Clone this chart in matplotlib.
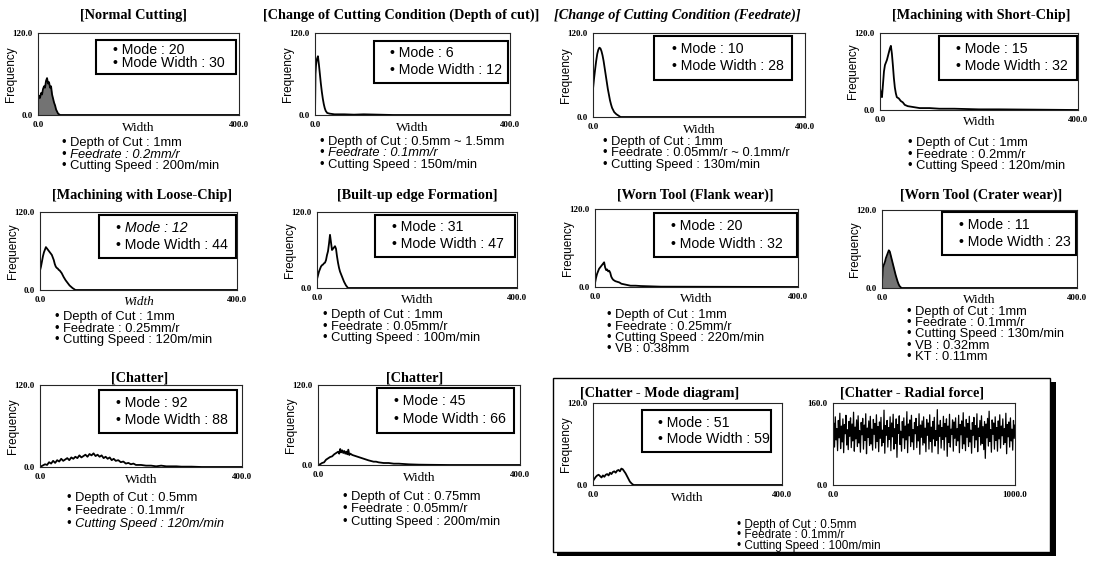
import matplotlib
matplotlib.use("Agg")
import matplotlib.pyplot as plt
from matplotlib.patches import Rectangle

W, H = 1110, 564

# ---- histogram data (width, frequency) ----
nc_w = [0, 2, 4, 6, 8, 10, 12, 14, 16, 18, 20, 22, 24, 26, 28, 30, 32, 34, 36, 38, 40, 44, 50, 400]
nc_f = [22, 28, 25, 32, 30, 38, 42, 40, 50, 54, 46, 48, 40, 42, 30, 24, 18, 14, 8, 5, 2, 0, 0, 0]

doc_w = [0, 1, 2, 3, 4, 5, 6, 7, 8, 10, 12, 14, 16, 18, 20, 22, 25, 30, 40, 60, 80, 100, 130, 160, 400]
doc_f = [0, 60, 72, 78, 82, 84, 86, 80, 74, 60, 46, 34, 24, 16, 10, 6, 3, 2, 1, 1, 0.5, 1, 0.5, 0, 0]

fr_w = [0, 2, 4, 6, 8, 10, 12, 14, 16, 18, 20, 22, 24, 26, 28, 30, 32, 34, 36, 40, 44, 48, 52, 400]
fr_f = [40, 55, 68, 80, 90, 96, 99, 98, 94, 88, 80, 70, 60, 50, 40, 32, 24, 18, 13, 7, 4, 2, 0, 0]

sc_w = [0, 2, 4, 6, 8, 10, 12, 14, 16, 18, 20, 22, 24, 26, 28, 30, 32, 34, 38, 42, 46, 50, 56, 64,
        72, 80, 100, 120, 150, 200, 240, 400]
sc_f = [34, 26, 20, 40, 60, 70, 74, 78, 84, 90, 96, 100, 88, 70, 50, 35, 26, 20, 18, 14, 12, 8, 6, 5,
        4, 3, 3, 2, 2, 1, 1, 0]

lc_w = [0, 2, 4, 6, 8, 10, 12, 14, 16, 18, 20, 22, 24, 26, 28, 30, 32, 34, 36, 38, 40, 44, 48, 52,
        56, 60, 66, 72, 400]
lc_f = [30, 36, 44, 52, 58, 62, 66, 64, 62, 60, 58, 56, 54, 50, 46, 40, 36, 34, 33, 31, 30, 26, 20, 15,
        11, 7, 3, 0, 0]

bue_w = [0, 2, 4, 6, 8, 10, 12, 14, 16, 18, 20, 22, 24, 26, 28, 30, 32, 34, 36, 38, 40, 42, 44, 46,
         48, 50, 54, 58, 62, 400]
bue_f = [14, 20, 26, 30, 34, 36, 37, 39, 40, 44, 52, 58, 70, 84, 72, 60, 62, 64, 66, 62, 50, 40, 32, 26,
         22, 18, 10, 4, 0, 0]

fw_w = [0, 2, 4, 6, 8, 10, 12, 14, 16, 18, 20, 22, 24, 26, 28, 30, 32, 34, 36, 38, 40, 44, 48, 52,
        58, 64, 70, 80, 90, 110, 130, 400]
fw_f = [6, 14, 20, 24, 28, 30, 32, 34, 36, 38, 30, 26, 27, 24, 25, 22, 16, 13, 11, 10, 9, 8, 7, 5,
        4, 3, 2, 2, 1.5, 1, 0.5, 0]

cw_w = [0, 2, 4, 6, 8, 10, 12, 14, 16, 18, 20, 22, 24, 26, 28, 30, 32, 34, 36, 40, 400]
cw_f = [10, 32, 36, 40, 46, 50, 54, 58, 56, 50, 44, 38, 32, 26, 20, 15, 10, 6, 3, 0, 0]

ch1_w = [0, 5, 10, 14, 18, 22, 26, 30, 34, 38, 42, 46, 50, 54, 58, 62, 66, 70, 74, 78, 82, 86, 90, 94,
         98, 102, 106, 110, 114, 118, 122, 126, 130, 134, 138, 142, 146, 150, 155, 160, 165, 170, 175,
         180, 185, 190, 200, 210, 220, 230, 240, 250, 260, 270, 280, 300, 320, 360, 400]
ch1_f = [0, 2, 4, 3, 7, 5, 9, 6, 10, 8, 12, 9, 11, 13, 10, 14, 12, 15, 13, 17, 14, 16, 18, 15,
         19, 17, 20, 16, 18, 15, 17, 13, 15, 12, 14, 10, 12, 9, 10, 7, 8, 5, 6,
         4, 5, 3, 3, 2, 2, 1, 2, 1, 1, 1, 0.5, 0.5, 0, 0, 0]

ch2_w = [0, 4, 8, 12, 16, 20, 24, 28, 32, 36, 40, 42, 44, 46, 48, 50, 52, 54, 56, 58, 60, 62, 64, 68,
         72, 76, 80, 84, 88, 92, 96, 100, 105, 110, 115, 120, 130, 140, 150, 160, 170, 180, 200, 220,
         260, 400]
ch2_f = [0, 1, 3, 4, 8, 10, 12, 13, 16, 18, 20, 17, 24, 19, 22, 18, 21, 17, 20, 16, 23, 15, 17, 15,
         14, 13, 12, 11, 10, 9, 8, 7, 6, 5, 5, 4, 3, 3, 2, 2, 1.5, 1, 0.5, 0.3,
         0, 0]

md_w = [0, 3, 6, 9, 12, 15, 18, 21, 24, 27, 30, 33, 36, 39, 42, 45, 48, 51, 54, 57, 60, 63, 66, 69,
        72, 75, 78, 82, 86, 400]
md_f = [6, 9, 12, 14, 15, 13, 11, 14, 12, 15, 16, 14, 18, 16, 19, 20, 18, 21, 22, 20, 24, 23, 20, 17,
        13, 9, 5, 2, 0, 0]

# radial force trace (chatter), values read as a dense band between ~60 and ~140
rf_vals = [
    96, 121, 74, 133, 88, 110, 67, 126, 92, 140, 71, 115, 84, 129, 63, 118, 100, 136, 78, 108,
    69, 124, 95, 131, 73, 119, 86, 142, 66, 113, 90, 127, 75, 135, 82, 106, 64, 122, 98, 130,
    70, 117, 87, 139, 61, 111, 93, 125, 77, 134, 80, 109, 68, 128, 99, 120, 72, 137, 85, 114,
    65, 123, 91, 132, 76, 107, 83, 146, 62, 116, 97, 126, 74, 112, 89, 133, 67, 121, 94, 138,
    70, 110, 81, 129, 54, 118, 101, 135, 79, 105, 66, 124, 92, 131, 71, 115, 88, 143, 63, 119,
    96, 127, 75, 136, 84, 108, 69, 122, 100, 130, 73, 114, 86, 139, 60, 117, 93, 125, 78, 133,
    82, 111, 65, 128, 97, 121, 70, 137, 85, 113, 64, 124, 90, 132, 76, 106, 87, 147, 61, 117,
    95, 126, 72, 112, 89, 134, 68, 120, 94, 129, 56, 115, 83, 138, 74, 109, 99, 127, 66, 123,
    91, 131, 77, 110, 86, 136, 63, 118, 98, 125, 71, 141, 80, 113, 67, 128, 93, 120, 75, 134,
    84, 107, 62, 122, 97, 132, 73, 116, 88, 139, 65, 111, 95, 126, 78, 135, 81, 114, 69, 124,
    52, 119, 92, 130, 76, 144, 85, 108, 64, 127, 99, 121, 70, 133, 87, 112, 66, 125, 90, 137,
    72, 115, 96, 129, 79, 110, 83, 140, 61, 118, 94, 123, 74, 131, 86, 109, 68, 126, 91, 117,
]

SERIF = "Liberation Serif"
SANS = "Liberation Sans"

fig = plt.figure(figsize=(W / 100, H / 100), dpi=100)


def px_axes(l, t, r, b):
    return fig.add_axes([l / W, 1 - b / H, (r - l) / W, (b - t) / H])


def fig_text(x, y, s, **kw):
    fig.text(x / W, 1 - y / H, s, **kw)


def style_axes(ax, xmax, ymax, xlab, ylab):
    ax.set_xlim(0, xmax)
    ax.set_ylim(0, ymax)
    ax.set_xticks([0, xmax])
    ax.set_xticklabels(["0.0", xlab], fontsize=6.5, family=SERIF, fontweight="bold")
    ax.set_yticks([0, ymax])
    ax.set_yticklabels(["0.0", ylab], fontsize=6.5, family=SERIF, fontweight="bold")
    ax.tick_params(length=0, pad=4)
    for sp in ax.spines.values():
        sp.set_linewidth(0.8)
        sp.set_color("0.15")


def hist_panel(rect, w, f, title, title_xy, mode, width, box, cond, cond_xy,
               title_style="normal", mode_italic=False, width_italic=False,
               italic_lines=(), filled=False, cond_step=11.5, cond_size=9.3):
    ax = px_axes(*rect)
    ax.plot(w, f, color="k", lw=1.3)
    if filled:
        ax.fill_between(w, f, color="k", alpha=0.55, lw=0)
    style_axes(ax, 400, 120, "400.0", "120.0")
    ax.text(0.5, -0.16, "Width", transform=ax.transAxes, ha="center", va="center",
            family=SERIF, fontsize=9.5, style="italic" if width_italic else "normal")
    ax.set_ylabel("Frequency", family=SANS, fontsize=8.5)
    ax.yaxis.set_label_coords(-21 / (rect[2] - rect[0]), 0.5)
    bx0, by0, bx1, by1 = box
    ax.add_patch(Rectangle((bx0, by0), bx1 - bx0, by1 - by0, transform=ax.transAxes,
                           fill=False, lw=1.5, ec="k", clip_on=False))
    ty1 = by0 + (by1 - by0) * 0.71
    ty2 = by0 + (by1 - by0) * 0.31
    ax.text(bx0 + 0.085, ty1, "\u2022 Mode : %d" % mode, transform=ax.transAxes,
            family=SANS, fontsize=10.2, va="center", style="italic" if mode_italic else "normal")
    ax.text(bx0 + 0.085, ty2, "\u2022 Mode Width : %d" % width, transform=ax.transAxes,
            family=SANS, fontsize=10.2, va="center")
    fig_text(title_xy[0], title_xy[1], title, ha="center", va="center", family=SERIF,
             fontweight="bold", fontsize=10.3, style=title_style)
    cx, cy = cond_xy
    for i, line in enumerate(cond):
        fig_text(cx, cy + i * cond_step, "\u2022 " + line, ha="left", va="center", family=SANS,
                 fontsize=cond_size, style="italic" if i in italic_lines else "normal")
    return ax


std_box = (0.29, 0.50, 0.985, 0.92)

# ---- row 1 ----
hist_panel((38, 33, 239, 115), nc_w, nc_f, "[Normal Cutting]", (133, 15), 20, 30,
           std_box, ["Depth of Cut : 1mm", "Feedrate : 0.2mm/r", "Cutting Speed : 200m/min"],
           (62, 143), italic_lines=(1,), filled=True)
hist_panel((315, 33, 510, 115), doc_w, doc_f, "[Change of Cutting Condition (Depth of cut)]",
           (401, 15), 6, 12, (0.30, 0.39, 0.99, 0.90),
           ["Depth of Cut : 0.5mm ~ 1.5mm", "Feedrate : 0.1mm/r", "Cutting Speed : 150m/min"],
           (320, 142), italic_lines=(1,))
hist_panel((593, 33, 805, 117), fr_w, fr_f, "[Change of Cutting Condition (Feedrate)]",
           (677, 15), 10, 28, (0.29, 0.44, 0.94, 0.96),
           ["Depth of Cut : 1mm", "Feedrate : 0.05mm/r ~ 0.1mm/r", "Cutting Speed : 130m/min"],
           (603, 142), title_style="italic")
hist_panel((880, 33, 1078, 110), sc_w, sc_f, "[Machining with Short-Chip]", (981, 15), 15, 32,
           (0.30, 0.39, 0.995, 0.96),
           ["Depth of Cut : 1mm", "Feedrate : 0.2mm/r", "Cutting Speed : 120m/min"], (908, 143))

# ---- row 2 ----
hist_panel((40, 212, 237, 290), lc_w, lc_f, "[Machining with Loose-Chip]", (142, 195), 12, 44,
           (0.30, 0.41, 0.995, 0.96),
           ["Depth of Cut : 1mm", "Feedrate : 0.25mm/r", "Cutting Speed : 120m/min"], (55, 317),
           mode_italic=True, width_italic=True)
hist_panel((317, 212, 517, 288), bue_w, bue_f, "[Built-up edge Formation]", (417, 195), 31, 47,
           (0.29, 0.41, 0.99, 0.96),
           ["Depth of Cut : 1mm", "Feedrate : 0.05mm/r", "Cutting Speed : 100m/min"], (323, 315))
hist_panel((595, 209, 798, 287), fw_w, fw_f, "[Worn Tool (Flank wear)]", (695, 195), 20, 32,
           (0.29, 0.38, 0.995, 0.95),
           ["Depth of Cut : 1mm", "Feedrate : 0.25mm/r", "Cutting Speed : 220m/min", "VB : 0.38mm"],
           (607, 315))
hist_panel((882, 210, 1077, 288), cw_w, cw_f, "[Worn Tool (Crater wear)]", (981, 195), 11, 23,
           (0.31, 0.42, 0.995, 0.97),
           ["Depth of Cut : 1mm", "Feedrate : 0.1mm/r", "Cutting Speed : 130m/min", "VB : 0.32mm",
            "KT : 0.11mm"], (907, 312), filled=True, cond_step=11.2)

# ---- row 3 ----
hist_panel((40, 385, 242, 467), ch1_w, ch1_f, "[Chatter]", (140, 378), 92, 88,
           (0.29, 0.41, 0.975, 0.94),
           ["Depth of Cut : 0.5mm", "Feedrate : 0.1mm/r", "Cutting Speed : 120m/min"], (67, 498),
           italic_lines=(2,), cond_step=13)
hist_panel((318, 385, 520, 465), ch2_w, ch2_f, "[Chatter]", (415, 378), 45, 66,
           (0.29, 0.40, 0.97, 0.96),
           ["Depth of Cut : 0.75mm", "Feedrate : 0.05mm/r", "Cutting Speed : 200m/min"], (343, 497),
           cond_step=12.5)

# framed pair with drop shadow
fig.patches.append(Rectangle((557 / W, 1 - 556 / H), 499 / W, 174 / H, transform=fig.transFigure,
                             fc="k", ec="none", zorder=-2))
fig.patches.append(Rectangle((553 / W, 1 - 552 / H), 497 / W, 174 / H, transform=fig.transFigure,
                             fc="white", ec="k", lw=1.0, zorder=-1))

ax_md = hist_panel((593, 403, 782, 485), md_w, md_f, "[Chatter - Mode diagram]", (660, 393), 51, 59,
                   (0.26, 0.40, 0.94, 0.91),
                   ["Depth of Cut : 0.5mm", "Feedrate : 0.1mm/r", "Cutting Speed : 100m/min"],
                   (737, 525), cond_step=10.5, cond_size=8.5)

ax_rf = px_axes(833, 403, 1015, 485)
rf_t = [i * 1000 / (len(rf_vals) - 1) for i in range(len(rf_vals))]
ax_rf.plot(rf_t, rf_vals, color="k", lw=0.9)
style_axes(ax_rf, 1000, 160, "1000.0", "160.0")
fig_text(912, 393, "[Chatter - Radial force]", ha="center", va="center", family=SERIF,
         fontweight="bold", fontsize=10.3)

fig.savefig("out.png", dpi=100)
